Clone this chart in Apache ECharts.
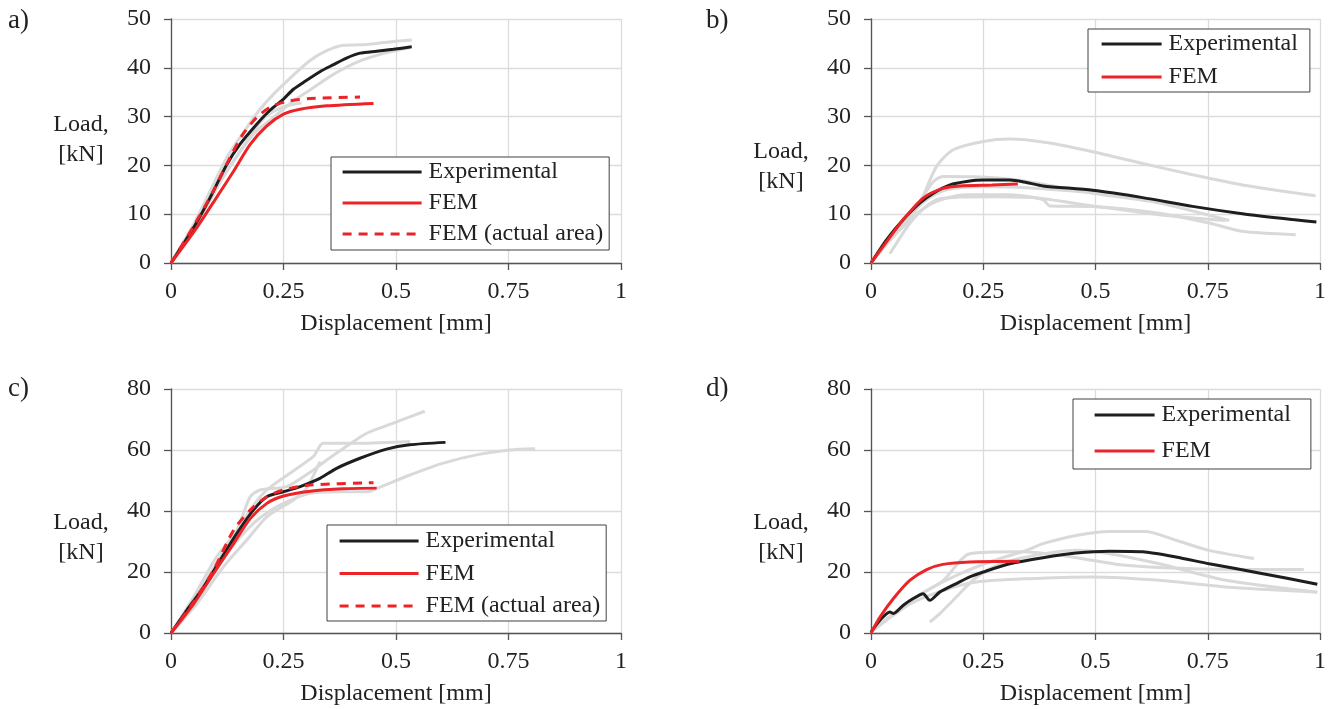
<!DOCTYPE html>
<html>
<head>
<meta charset="utf-8">
<script src="https://cdn.jsdelivr.net/npm/echarts@6/dist/echarts.min.js"></script>
<style>
html,body{margin:0;padding:0;background:#fff;}
#chart{width:1331px;height:709px;}
</style>
</head>
<body>
<div id="chart"></div>
<script>
// ---------------- DATA ----------------
const xTicks = ['0', '0.25', '0.5', '0.75', '1'];
const panelLabels = ['a)', 'b)', 'c)', 'd)'];
const legendNames3 = ['Experimental', 'FEM', 'FEM (actual area)'];
const legendNames2 = ['Experimental', 'FEM'];

// Panel a
const a_exp = [[0,0],[0.05,7.2],[0.087,13.4],[0.124,20.2],[0.153,24.3],[0.19,28.4],[0.22,31.3],[0.25,33.6],[0.272,35.6],[0.294,37.0],[0.331,39.2],[0.36,40.6],[0.39,42.0],[0.42,43.0],[0.457,43.4],[0.494,43.8],[0.535,44.3]];
const a_fem = [[0,0],[0.057,7.2],[0.101,13.4],[0.139,18.8],[0.176,24.3],[0.213,28.1],[0.25,30.5],[0.287,31.5],[0.346,32.2],[0.45,32.7]];
const a_femArea = [[0,0],[0.05,7.5],[0.094,14.7],[0.131,21.6],[0.16,26.4],[0.19,29.8],[0.22,31.9],[0.257,33.1],[0.309,33.7],[0.42,34.0]];
const a_gray1 = [[0,0],[0.05,7.9],[0.087,14.7],[0.124,21.6],[0.168,27.7],[0.198,31.5],[0.227,34.5],[0.272,38.5],[0.309,41.5],[0.346,43.5],[0.383,44.6],[0.42,44.7],[0.457,45.0],[0.494,45.4],[0.535,45.7]];
const a_gray2 = [[0,0],[0.064,9.2],[0.124,18.8],[0.183,26.4],[0.227,29.8],[0.272,33.2],[0.316,35.9],[0.36,38.6],[0.42,41.4],[0.479,43.1],[0.53,44.1]];
const a_gray3 = [[0,0],[0.04,6.0],[0.09,14.0],[0.14,21.0],[0.18,26.5],[0.21,30.0],[0.25,32.0],[0.29,32.8]];

// Panel b
const b_exp = [[0,0],[0.035,4.8],[0.072,8.9],[0.109,12.3],[0.139,14.3],[0.176,16.0],[0.213,16.7],[0.25,17.0],[0.309,17.0],[0.346,16.5],[0.383,15.8],[0.494,14.9],[0.605,13.4],[0.716,11.6],[0.827,10.1],[0.939,8.9],[0.992,8.4]];
const b_fem = [[0,0],[0.035,4.4],[0.072,8.9],[0.116,13.3],[0.16,15.3],[0.198,15.8],[0.27,16.0],[0.327,16.2]];
const b_gray1 = [[0,0],[0.05,6.1],[0.101,10.9],[0.146,19.8],[0.183,23.2],[0.25,24.9],[0.309,25.4],[0.39,24.7],[0.494,22.8],[0.605,20.4],[0.716,18.1],[0.827,16.0],[0.99,13.8]];
const b_gray2 = [[0,0],[0.05,6.1],[0.101,11.6],[0.139,16.7],[0.16,17.7],[0.25,17.6],[0.346,16.7],[0.494,14.3],[0.642,12.3],[0.798,8.7]];
const b_gray3 = [[0.042,1.9],[0.087,8.2],[0.124,11.6],[0.168,13.3],[0.213,14.0],[0.309,14.0],[0.383,13.0],[0.398,11.7],[0.494,11.6],[0.642,10.2],[0.753,8.2],[0.827,6.5],[0.946,5.8]];
const b_gray4 = [[0,0],[0.057,6.1],[0.109,10.6],[0.146,13.0],[0.198,13.5],[0.272,13.6],[0.36,13.4],[0.494,11.7],[0.642,9.9],[0.79,8.7]];
const b_gray5 = [[0,0],[0.064,7.5],[0.124,13.0],[0.168,15.0],[0.25,15.6],[0.346,15.4],[0.494,14.4]];

// Panel c
const c_exp = [[0,0],[0.035,7.4],[0.072,15.0],[0.109,23.8],[0.146,32.6],[0.183,40.3],[0.213,44.7],[0.25,46.3],[0.287,48.0],[0.331,50.7],[0.368,54.0],[0.42,57.3],[0.479,60.3],[0.53,61.7],[0.61,62.5]];
const c_fem = [[0,0],[0.05,9.5],[0.094,19.4],[0.139,29.3],[0.176,37.5],[0.213,42.5],[0.25,44.9],[0.309,46.5],[0.383,47.3],[0.457,47.5]];
const c_femArea = [[0,0],[0.05,10.1],[0.094,20.5],[0.139,33.7],[0.176,40.3],[0.213,44.7],[0.25,46.9],[0.309,48.5],[0.45,49.3]];
const c_gray1 = [[0,0],[0.05,11.7],[0.101,24.9],[0.146,33.7],[0.176,44.7],[0.198,46.9],[0.257,48.0],[0.316,53.4],[0.346,56.7],[0.383,60.5],[0.435,65.5],[0.494,68.8],[0.564,72.7]];
const c_gray2 = [[0,0],[0.064,14.0],[0.124,28.3],[0.176,40.3],[0.213,46.9],[0.316,57.8],[0.338,62.2],[0.42,62.2],[0.531,62.8]];
const c_gray3 = [[0,0],[0.064,12.8],[0.124,26.0],[0.183,35.9],[0.235,41.4],[0.309,45.8],[0.383,46.3],[0.435,46.3],[0.457,47.4],[0.531,51.8],[0.605,55.7],[0.679,58.4],[0.753,60.0],[0.809,60.4]];
const c_gray4 = [[0,0],[0.057,9.5],[0.116,21.6],[0.168,30.4],[0.213,38.1],[0.272,43.6],[0.301,47.4],[0.331,56.2]];

// Panel d
const d_exp = [[0,0.3],[0.02,4.2],[0.042,6.9],[0.05,6.4],[0.072,9.1],[0.094,11.3],[0.116,12.9],[0.131,10.7],[0.153,13.4],[0.19,16.2],[0.22,18.4],[0.25,20.0],[0.309,22.7],[0.383,24.7],[0.457,26.2],[0.531,26.8],[0.605,26.6],[0.679,24.9],[0.753,22.7],[0.864,19.7],[0.994,16.0]];
const d_fem = [[0,0],[0.02,5.2],[0.05,11.3],[0.087,17.3],[0.124,20.8],[0.16,22.5],[0.22,23.3],[0.331,23.5]];
const d_gray1 = [[0,0.3],[0.05,6.3],[0.124,13.9],[0.198,19.4],[0.272,23.7],[0.346,27.1],[0.383,29.3],[0.457,32.0],[0.531,33.3],[0.612,33.3],[0.679,30.4],[0.753,27.1],[0.853,24.4]];
const d_gray2 = [[0,0.3],[0.087,10.6],[0.16,17.1],[0.22,26.0],[0.331,26.6],[0.42,25.5],[0.568,22.2],[0.716,21.1],[0.964,20.8]];
const d_gray3 = [[0,0.3],[0.087,9.5],[0.16,13.9],[0.235,16.7],[0.346,17.8],[0.494,18.4],[0.642,17.3],[0.79,15.1],[0.994,13.4]];
const d_gray4 = [[0.131,3.6],[0.153,6.3],[0.19,11.8],[0.227,17.3],[0.272,21.6],[0.346,24.9],[0.457,27.1],[0.531,26.0],[0.642,22.7],[0.79,17.3],[0.994,13.4]];

// ---------------- STYLE / LAYOUT ----------------
const FONT = 'Liberation Serif';
const TXT = '#222';
const BLACK = '#1e1e1e';
const RED = '#ec2428';
const GRAY = '#d9d9d9';

const grids = [
  {left:171, top:19, width:450, height:244},
  {left:871, top:19, width:449, height:244},
  {left:171, top:389, width:450, height:244},
  {left:871, top:389, width:449, height:244}
];
const yMax = [50, 50, 80, 80];
const yInt = [10, 10, 20, 20];

const xAxes = grids.map((g, i) => ({
  type:'value', gridIndex:i, min:0, max:1, interval:0.25,
  name:'Displacement [mm]', nameLocation:'middle', nameGap:49,
  nameTextStyle:{fontFamily:FONT, fontSize:24, color:TXT},
  axisLine:{show:true, onZero:false, lineStyle:{color:'#555', width:1.3}},
  axisTick:{show:true, inside:false, length:7, lineStyle:{color:'#555', width:1.3}},
  axisLabel:{margin:17, fontFamily:FONT, fontSize:24, color:TXT,
    formatter: v => xTicks[Math.round(v/0.25)]},
  splitLine:{show:true, lineStyle:{color:'#dcdcdc', width:1.3}}
}));
const yAxes = grids.map((g, i) => ({
  type:'value', gridIndex:i, min:0, max:yMax[i], interval:yInt[i],
  axisLine:{show:true, lineStyle:{color:'#555', width:1.3}},
  axisTick:{show:true, inside:false, length:7, lineStyle:{color:'#555', width:1.3}},
  axisLabel:{margin:20, fontFamily:FONT, fontSize:24, color:TXT},
  splitLine:{show:true, lineStyle:{color:'#dcdcdc', width:1.3}}
}));

function line(name, data, idx, color, dashed, z, w) {
  return {
    type:'line', name:name, data:data, xAxisIndex:idx, yAxisIndex:idx,
    showSymbol:false, symbol:'none', smooth:0.25, animation:false, z:z,
    lineStyle:{color:color, width:w, type: dashed ? [9,7] : 'solid'},
    itemStyle:{color:color}
  };
}
const series = [];
[[a_gray1,a_gray2,a_gray3],[b_gray1,b_gray2,b_gray3,b_gray4,b_gray5],[c_gray1,c_gray2,c_gray3,c_gray4],[d_gray1,d_gray2,d_gray3,d_gray4]]
  .forEach((gs, i) => gs.forEach(g => series.push(line('spec', g, i, GRAY, false, 1, 3))));
series.push(line(legendNames3[0], a_exp, 0, BLACK, false, 3, 3));
series.push(line(legendNames3[1], a_fem, 0, RED, false, 4, 3));
series.push(line(legendNames3[2], a_femArea, 0, RED, true, 4, 3));
series.push(line(legendNames2[0], b_exp, 1, BLACK, false, 3, 3));
series.push(line(legendNames2[1], b_fem, 1, RED, false, 4, 3));
series.push(line(legendNames3[0], c_exp, 2, BLACK, false, 3, 3));
series.push(line(legendNames3[1], c_fem, 2, RED, false, 4, 3));
series.push(line(legendNames3[2], c_femArea, 2, RED, true, 4, 3));
series.push(line(legendNames2[0], d_exp, 3, BLACK, false, 3, 3));
series.push(line(legendNames2[1], d_fem, 3, RED, false, 4, 3));

function legend(names, left, top, pad, gap, w) {
  return {
    data:names, orient:'vertical', left:left, top:top, padding:pad, itemGap:gap,
    itemWidth:w, itemHeight:14, selectedMode:false,
    itemStyle:{opacity:0},
    lineStyle:{width:3.2},
    backgroundColor:'#fff', borderColor:'#404040', borderWidth:1,
    textStyle:{fontFamily:FONT, fontSize:24, color:TXT, padding:[0,0,0,2]}
  };
}
const legends = [
  legend(legendNames3, 331, 157, [3,6,4,10], 7, 79),
  legend(legendNames2, 1088, 29, [3,12,3,12], 9, 60),
  legend(legendNames3, 327, 525, [4,6,3,11], 8.5, 79),
  legend(legendNames2, 1073, 399, [4,20,6,20], 12, 60)
];

const labelPos = [[19,22],[717,22],[19,390],[717,390]];
const loadPos = [[81,125,155],[781,152,182],[81,523,553],[781,523,553]];
const graphics = [];
panelLabels.forEach((t, i) => graphics.push({type:'text', left:labelPos[i][0]-11, top:labelPos[i][1]-15,
  style:{text:t, font:'27px "' + FONT + '"', fill:TXT}}));
loadPos.forEach(p => {
  graphics.push({type:'text', x:p[0], y:p[1], style:{text:'Load,', font:'24px "' + FONT + '"', fill:TXT, textAlign:'center', textVerticalAlign:'middle'}});
  graphics.push({type:'text', x:p[0], y:p[2], style:{text:'[kN]', font:'24px "' + FONT + '"', fill:TXT, textAlign:'center', textVerticalAlign:'middle'}});
});

const chart = echarts.init(document.getElementById('chart'), null, {renderer:'canvas'});
chart.setOption({
  backgroundColor:'#fff',
  animation:false,
  grid:grids,
  xAxis:xAxes,
  yAxis:yAxes,
  legend:legends,
  graphic:graphics,
  series:series
});
</script>
</body>
</html>
